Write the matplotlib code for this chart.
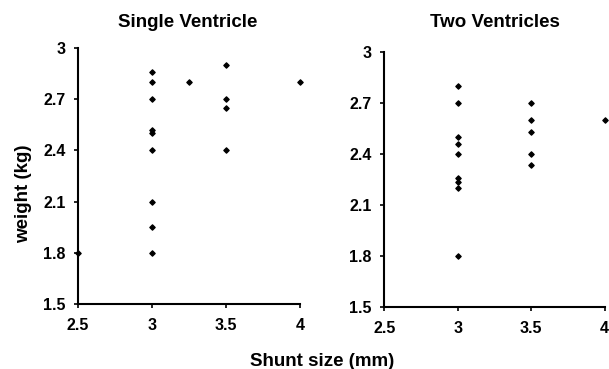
# Shunt size vs weight, single vs two ventricles
import matplotlib
matplotlib.use("Agg")
import matplotlib.pyplot as plt

plt.rcParams['font.family'] = ['Liberation Sans', 'DejaVu Sans']
plt.rcParams['font.weight'] = 'bold'

# single ventricle
sv_shunt = [3, 3, 3, 3, 3, 3, 3, 3, 3, 3.25, 3.5, 3.5, 3.5, 3.5, 4, 2.5]
sv_weight = [2.86, 2.80, 2.70, 2.52, 2.50, 2.40, 2.10, 1.95, 1.80, 2.80, 2.90, 2.70, 2.65, 2.40, 2.80, 1.80]

# two ventricles
tv_shunt = [3, 3, 3, 3, 3, 3, 3, 3, 3, 3.5, 3.5, 3.5, 3.5, 3.5, 4]
tv_weight = [2.80, 2.70, 2.50, 2.46, 2.40, 2.26, 2.24, 2.20, 1.80, 2.70, 2.60, 2.53, 2.40, 2.34, 2.60]

xticks = [2.5, 3, 3.5, 4]
yticks = [1.5, 1.8, 2.1, 2.4, 2.7, 3]

fig = plt.figure(figsize=(6.09, 3.69), dpi=100)
ax1 = fig.add_axes([0.128, 0.176, 0.365, 0.694])
ax2 = fig.add_axes([0.631, 0.167, 0.362, 0.691])

for ax, x, y in ((ax1, sv_shunt, sv_weight), (ax2, tv_shunt, tv_weight)):
    ax.scatter(x, y, marker='D', s=7, color='black', clip_on=False, zorder=3)
    ax.set_xlim(2.5, 4)
    ax.set_ylim(1.5, 3)
    ax.set_xticks(xticks)
    ax.set_xticklabels(['2.5', '3', '3.5', '4'])
    ax.set_yticks(yticks)
    ax.set_yticklabels(['1.5', '1.8', '2.1', '2.4', '2.7', '3'])
    ax.spines['top'].set_visible(False)
    ax.spines['right'].set_visible(False)
    ax.spines['left'].set_linewidth(1.5)
    ax.spines['bottom'].set_linewidth(1.5)
    ax.tick_params(direction='out', length=3, width=1.2, labelsize=11.5)
    ax.tick_params(axis='x', pad=7)
    ax.tick_params(axis='y', pad=6)

fig.text(0.309, 0.94, 'Single Ventricle', ha='center', va='center', fontsize=13.5, fontweight='bold')
fig.text(0.813, 0.94, 'Two Ventricles', ha='center', va='center', fontsize=13.5, fontweight='bold')
fig.text(0.039, 0.475, 'weight (kg)', rotation=90, ha='center', va='center', fontsize=13.5, fontweight='bold')
fig.text(0.529, 0.02, 'Shunt size (mm)', ha='center', va='center', fontsize=13.5, fontweight='bold')

plt.savefig('out.png', dpi=100)
